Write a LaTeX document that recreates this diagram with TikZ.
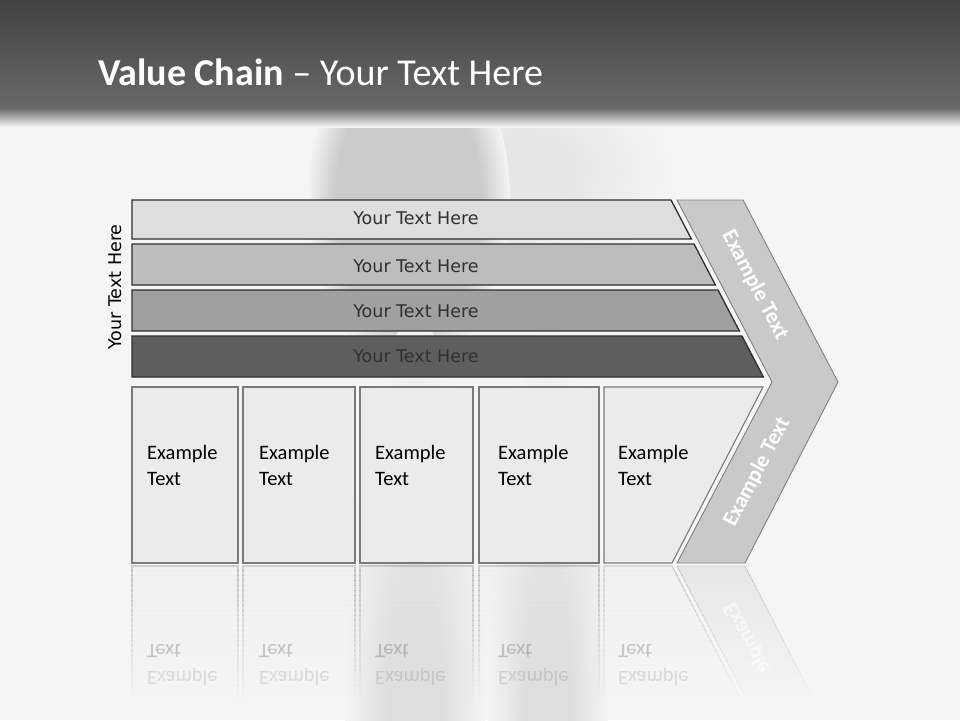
\documentclass[tikz,border=0pt]{standalone}
\usepackage{fontspec}
\setmainfont{Carlito}
\newfontfamily\vfont{DejaVu Sans}
\definecolor{bgc}{HTML}{F5F5F5}
\definecolor{barA}{HTML}{DEDEDE}
\definecolor{barB}{HTML}{BDBDBD}
\definecolor{barC}{HTML}{A0A0A0}
\definecolor{barD}{HTML}{5E5E5E}
\definecolor{barline}{HTML}{2E2E2E}
\definecolor{bartext}{HTML}{303030}
\definecolor{boxfill}{HTML}{EBEBEB}
\definecolor{boxline}{HTML}{7A7A7A}
\definecolor{chevfill}{HTML}{C9C9C9}
\definecolor{chevline}{HTML}{808080}
\definecolor{blobc}{HTML}{CBCBCB}
\definecolor{glowc}{HTML}{E6E6E6}
\definecolor{streakc}{HTML}{DEDEDE}
\pgfdeclareradialshading{blob}{\pgfpoint{0bp}{0bp}}{color(0bp)=(blobc); color(18bp)=(blobc); color(25bp)=(bgc); color(50bp)=(bgc)}
\pgfdeclareradialshading{glow}{\pgfpoint{0bp}{0bp}}{color(0bp)=(glowc); color(8bp)=(glowc); color(25bp)=(bgc); color(50bp)=(bgc)}
\pgfdeclareradialshading{streak}{\pgfpoint{0bp}{0bp}}{color(0bp)=(streakc); color(10bp)=(streakc); color(25bp)=(bgc); color(50bp)=(bgc)}
\tikzset{
  barshape/.style={fill=#1, draw=barline, line width=1.3pt},
  bartxt/.style={font=\vfont\fontsize{17.5}{20}\selectfont, text=bartext, inner sep=0pt},
  boxshape/.style={fill=boxfill, draw=boxline, line width=1.1pt},
  boxtxt/.style={font=\fontsize{20.5}{26}\selectfont, text=black, align=left, anchor=west, inner sep=0pt},
  chevshape/.style={fill=chevfill, draw=chevline, line width=0.9pt},
  chevtxt/.style={font=\bfseries\fontsize{22}{24}\selectfont, text=white, inner sep=0pt},
  reflA/.style={font=\fontsize{20.5}{26}\selectfont, text=black, text opacity=0.2, anchor=west, inner sep=0pt, yscale=-1},
  reflB/.style={reflA, text opacity=0.11},
}
\newcommand\reflshapes{%
  \draw[boxshape] (132,387) rectangle (238,563);
  \draw[boxshape] (243,387) rectangle (355,563);
  \draw[boxshape] (360,387) rectangle (473,563);
  \draw[boxshape] (479,387) rectangle (599,563);
  \draw[boxshape] (604,387) -- (763,387) -- (672,563) -- (604,563) -- cycle;
  \draw[draw=chevline, line width=0.9pt] (772,382) -- (838,382) -- (745,563) -- (677,563) -- cycle;
}
\begin{document}
\begin{tikzpicture}[x=1pt,y=-1pt]
\useasboundingbox (0,0) rectangle (960,720);
% background
\fill[bgc] (0,0) rectangle (960,720);
\shade[shading=glow] (525,170) ellipse [x radius=150, y radius=110];
\shade[shading=blob] (408,200) ellipse [x radius=102, y radius=170];
\shade[shading=streak] (415,720) ellipse [x radius=70, y radius=400];
\shade[shading=streak] (548,720) ellipse [x radius=60, y radius=400];
% header
\shade[top color=black!74, bottom color=black!59] (0,0) rectangle (960,108);
\shade[top color=black!59, bottom color=bgc] (0,108) rectangle (960,127);
\node[anchor=base west, inner sep=0pt, text=white, font=\fontsize{38}{40}\selectfont] (title) at (98,85) {\textbf{Value Chain} – Your Text Here};

% reflection of the chevron arm (smooth fill)
\shade[top color=chevfill!32!bgc, bottom color=bgc] (677,566) -- (745,566) -- (813.9,700) -- (747.3,700) -- cycle;
% reflection (shapes), fading out in strips
\foreach \i in {0,...,26} {
  \pgfmathsetmacro{\op}{0.3*(1-\i/27)}
  \begin{scope}
    \clip (120,{565+5*\i}) rectangle (860,{570+5*\i});
    \begin{scope}[shift={(0,1129)}, yscale=-1, opacity=\op]
      \reflshapes
    \end{scope}
  \end{scope}
}
% reflection (texts)
\node[reflA] (r1a) at (147,651) {Text};
\node[reflA] (r2a) at (259,651) {Text};
\node[reflA] (r3a) at (375,651) {Text};
\node[reflA] (r4a) at (498,651) {Text};
\node[reflA] (r5a) at (618,651) {Text};
\node[reflB] (r1b) at (147,677) {Example};
\node[reflB] (r2b) at (259,677) {Example};
\node[reflB] (r3b) at (375,677) {Example};
\node[reflB] (r4b) at (498,677) {Example};
\node[reflB] (r5b) at (618,677) {Example};
\begin{scope}
  \clip (690,580) rectangle (860,675);
  \node[chevtxt, text=white, text opacity=0.6, yscale=-1, rotate=62.4] (r6) at (757,657) {Example Text};
\end{scope}

% bars
\draw[barshape=barA] (132,200) -- (671,200) -- (691.4,239) -- (132,239) -- cycle;
\draw[barshape=barB] (132,244) -- (694,244) -- (715.4,285) -- (132,285) -- cycle;
\draw[barshape=barC] (132,290) -- (718,290) -- (739.4,331) -- (132,331) -- cycle;
\draw[barshape=barD] (132,336) -- (742,336) -- (763.4,377) -- (132,377) -- cycle;
\node[bartxt] (b1) at (416,218.5) {Your Text Here};
\node[bartxt] (b2) at (416,266) {Your Text Here};
\node[bartxt] (b3) at (416,311) {Your Text Here};
\node[bartxt] (b4) at (416,356.5) {Your Text Here};
\node[bartxt, text=black, rotate=90] (side) at (115,287) {Your Text Here};

% chevron
\draw[chevshape] (677,200) -- (743,200) -- (838,382) -- (745,563) -- (677,563) -- (772,382) -- cycle;
\node[chevtxt, rotate=-62.4] (c1) at (755,285) {Example Text};
\node[chevtxt, rotate=62.4] (c2) at (757,472) {Example Text};

% boxes
\draw[boxshape] (132,387) rectangle (238,563);
\draw[boxshape] (243,387) rectangle (355,563);
\draw[boxshape] (360,387) rectangle (473,563);
\draw[boxshape] (479,387) rectangle (599,563);
\draw[boxshape] (604,387) -- (763,387) -- (672,563) -- (604,563) -- cycle;
\node[boxtxt] (t1) at (147,465) {Example\\Text};
\node[boxtxt] (t2) at (259,465) {Example\\Text};
\node[boxtxt] (t3) at (375,465) {Example\\Text};
\node[boxtxt] (t4) at (498,465) {Example\\Text};
\node[boxtxt] (t5) at (618,465) {Example\\Text};
\end{tikzpicture}
\end{document}
